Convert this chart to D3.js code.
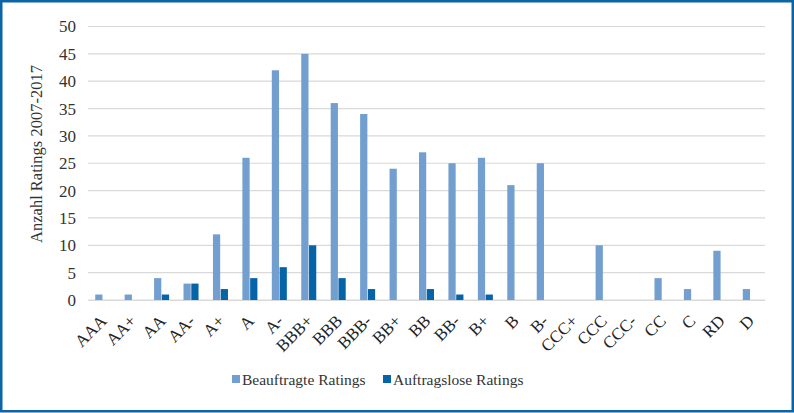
<!DOCTYPE html>
<html><head><meta charset="utf-8">
<script src="https://cdn.jsdelivr.net/npm/d3@7"></script>
<style>html,body{margin:0;padding:0;background:#fff;}svg{display:block;}</style>
</head><body>
<script>
const categories = ["AAA","AA+","AA","AA-","A+","A","A-","BBB+","BBB","BBB-","BB+","BB","BB-","B+","B","B-","CCC+","CCC","CCC-","CC","C","RD","D"];
const beauftragt = [1,1,4,3,12,26,42,45,36,34,24,27,25,26,21,25,0,10,0,4,2,9,2];
const auftragslos = [0,0,1,3,2,4,6,10,4,2,0,2,1,1,0,0,0,0,0,0,0,0,0];
const seriesNames = ["Beauftragte Ratings","Auftragslose Ratings"];
const yTicks = [0,5,10,15,20,25,30,35,40,45,50];

const W = 794, H = 413;
const colors = ["#729fcf", "#0563a8"];
const font = "'Liberation Serif', 'DejaVu Serif', serif";
const svg = d3.select("body").append("svg").attr("width", W).attr("height", H);

svg.append("rect").attr("x",1.25).attr("y",1.25).attr("width",W-2.5).attr("height",H-3)
  .attr("fill","#fff").attr("stroke","#0a64a6").attr("stroke-width",2.5);

const m = {left: 88, right: 765, top: 26.5, bottom: 300};
const x0 = d3.scaleBand().domain(categories).range([m.left, m.right]).paddingInner(0.49).paddingOuter(0.245);
const x1 = d3.scaleBand().domain(seriesNames).range([0, x0.bandwidth()]).paddingInner(0.07);
const y = d3.scaleLinear().domain([0,50]).range([m.bottom, m.top]);

// gridlines
svg.append("g").selectAll("line").data(yTicks).join("line")
  .attr("x1", m.left).attr("x2", m.right)
  .attr("y1", d=>y(d)).attr("y2", d=>y(d))
  .attr("stroke", "#d9d9d9").attr("stroke-width", 1.2);

// y tick labels
const yAxis = d3.axisLeft(y).tickValues(yTicks).tickSize(0).tickPadding(0);
const gy = svg.append("g").attr("transform", `translate(${m.left-12},0)`).call(yAxis);
gy.select(".domain").remove();
gy.selectAll("text").attr("font-family", font).attr("font-size", 17).attr("fill","#333");

// bars
const data = categories.map((c,i)=>({c, vals:[beauftragt[i], auftragslos[i]]}));
const groups = svg.append("g").selectAll("g").data(data).join("g")
  .attr("transform", d=>`translate(${x0(d.c)},0)`);
groups.selectAll("rect").data(d=>d.vals.map((v,k)=>({v,k}))).join("rect")
  .filter(d=>d.v>0)
  .attr("x", d=>x1(seriesNames[d.k]))
  .attr("width", x1.bandwidth())
  .attr("y", d=>y(d.v))
  .attr("height", d=>y(0)-y(d.v))
  .attr("fill", d=>colors[d.k]);

// x axis labels
const xAxis = d3.axisBottom(x0).tickSize(0).tickPadding(0);
const gx = svg.append("g").attr("transform", `translate(0,${m.bottom})`).call(xAxis);
gx.select(".domain").attr("stroke","#d9d9d9").attr("stroke-width",1.2);
gx.selectAll("text")
  .attr("font-family", font).attr("font-size", 17).attr("fill","#222")
  .attr("text-anchor","end").attr("dy",null).attr("y",0)
  .attr("transform","translate(5,22) rotate(-45)");

// y axis title
svg.append("text").attr("transform","translate(42,154) rotate(-90)")
  .attr("text-anchor","middle").attr("font-family",font).attr("font-size",16.5).attr("fill","#333")
  .text("Anzahl Ratings 2007-2017");

// legend
const legX = [232, 383];
const leg = svg.append("g").selectAll("g").data(seriesNames).join("g")
  .attr("transform",(d,i)=>`translate(${legX[i]},385)`);
leg.append("rect").attr("x",0).attr("y",-10).attr("width",8).attr("height",8).attr("fill",(d,i)=>colors[i]);
leg.append("text").attr("x",10).attr("y",0).attr("font-family",font).attr("font-size",15.5).attr("fill","#333").text(d=>d);
</script>
</body></html>
